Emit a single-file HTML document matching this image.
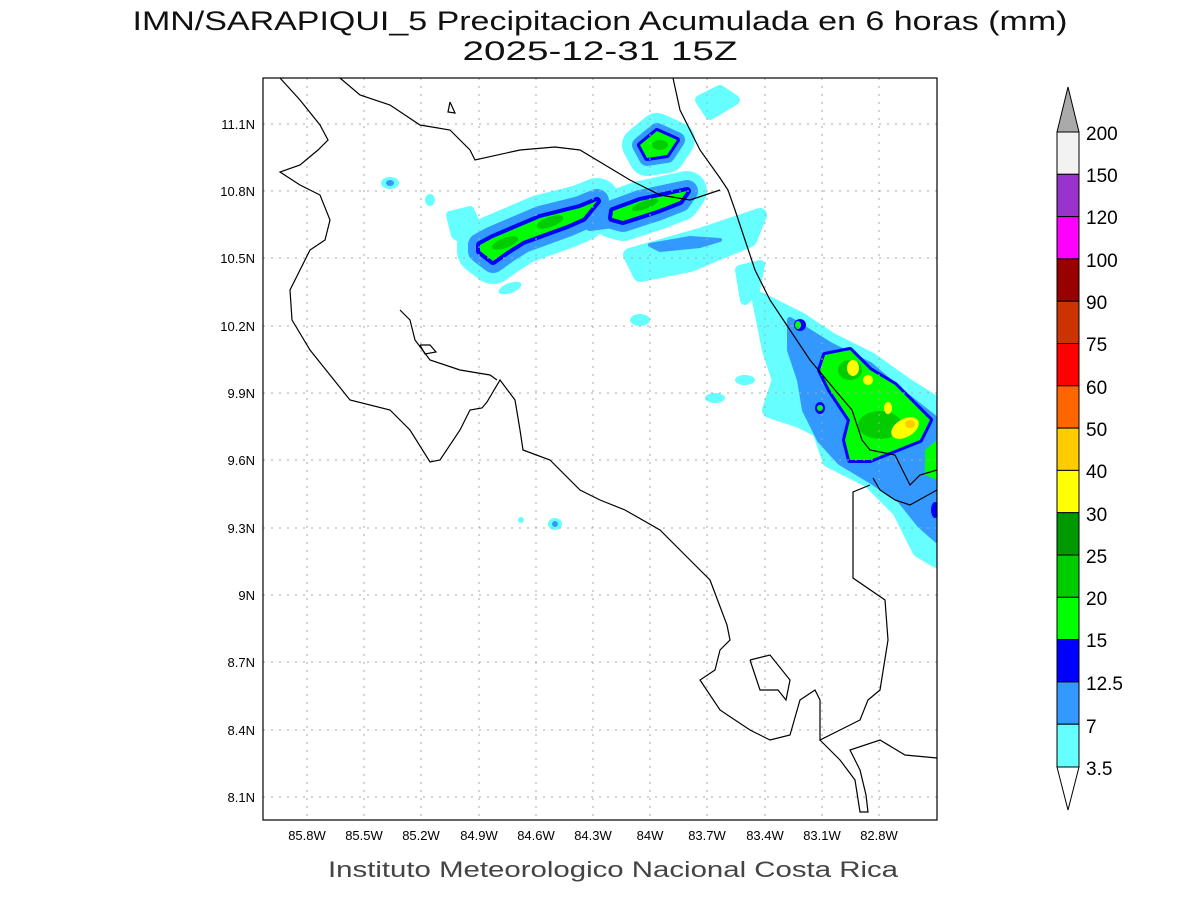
<!DOCTYPE html>
<html><head><meta charset="utf-8"><style>
body{margin:0;background:#fff;}
svg{display:block;font-family:"Liberation Sans",sans-serif;}
</style></head><body>
<svg width="1200" height="900" viewBox="0 0 1200 900">
<rect width="1200" height="900" fill="#fff"/>
<text x="600" y="30" font-size="27" text-anchor="middle" fill="#111" textLength="935" lengthAdjust="spacingAndGlyphs">IMN/SARAPIQUI_5 Precipitacion Acumulada en 6 horas (mm)</text>
<text x="600" y="60" font-size="27" text-anchor="middle" fill="#111" textLength="275" lengthAdjust="spacingAndGlyphs">2025-12-31 15Z</text>
<defs><clipPath id="c"><rect x="263" y="78" width="674" height="742"/></clipPath></defs>
<g clip-path="url(#c)" stroke-linejoin="round" stroke-linecap="round">
<g id="b1">
<polygon points="480,245 493,238 540,218 580,208 597,201 583,218 567,225 523,241 507,251 493,261 480,251" fill="#66ffff" stroke="#66ffff" stroke-width="46"/>
<polygon points="613,211 640,201 687,191 680,201 657,210 623,221 612,218" fill="#66ffff" stroke="#66ffff" stroke-width="40"/>
<polygon points="640,145 657,131 677,140 667,155 647,158" fill="#66ffff" stroke="#66ffff" stroke-width="36"/>
<polygon points="630,255 700,235 760,215 750,240 690,265 640,275" fill="#66ffff" stroke="#66ffff" stroke-width="14"/>
<polygon points="450,215 470,210 480,230 470,245 455,235" fill="#66ffff" stroke="#66ffff" stroke-width="8"/>
<polygon points="700,100 720,90 735,100 710,115" fill="#66ffff" stroke="#66ffff" stroke-width="10"/>
<polygon points="740,270 760,265 755,290 745,300" fill="#66ffff" stroke="#66ffff" stroke-width="10"/>
<polygon points="480,245 493,238 540,218 580,208 597,201 583,218 567,225 523,241 507,251 493,261 480,251" fill="#3399ff" stroke="#3399ff" stroke-width="24"/>
<polygon points="613,211 640,201 687,191 680,201 657,210 623,221 612,218" fill="#3399ff" stroke="#3399ff" stroke-width="22"/>
<polygon points="585,212 615,205 620,222 590,226" fill="#3399ff" stroke="#3399ff" stroke-width="10"/>
<polygon points="640,145 657,131 677,140 667,155 647,158" fill="#3399ff" stroke="#3399ff" stroke-width="16"/>
<polygon points="650,245 690,238 720,240 700,246 660,250" fill="#3399ff" stroke="#3399ff" stroke-width="4"/>
<polygon points="480,245 493,238 540,218 580,208 597,201 583,218 567,225 523,241 507,251 493,261 480,251" fill="#0000ff" stroke="#0000ff" stroke-width="8"/>
<polygon points="613,211 640,201 687,191 680,201 657,210 623,221 612,218" fill="#0000ff" stroke="#0000ff" stroke-width="8"/>
<polygon points="640,145 657,131 677,140 667,155 647,158" fill="#0000ff" stroke="#0000ff" stroke-width="6"/>
<polygon points="480,245 493,238 540,218 580,208 597,201 583,218 567,225 523,241 507,251 493,261 480,251" fill="#00ff00"/>
<polygon points="613,211 640,201 687,191 680,201 657,210 623,221 612,218" fill="#00ff00"/>
<polygon points="640,145 657,131 677,140 667,155 647,158" fill="#00ff00"/>
<ellipse cx="505" cy="243" rx="14" ry="5" fill="#00cc00" transform="rotate(-20 505 243)"/>
<ellipse cx="550" cy="222" rx="14" ry="5" fill="#00cc00" transform="rotate(-20 550 222)"/>
<ellipse cx="645" cy="205" rx="14" ry="4" fill="#00cc00" transform="rotate(-20 645 205)"/>
<ellipse cx="660" cy="145" rx="8" ry="5" fill="#00cc00"/>
</g>
<ellipse cx="390" cy="183" rx="9" ry="6" fill="#66ffff"/><ellipse cx="390" cy="183" rx="4" ry="3" fill="#3399ff"/>
<ellipse cx="430" cy="200" rx="5" ry="6" fill="#66ffff"/>
<ellipse cx="555" cy="524" rx="7" ry="6" fill="#66ffff"/><ellipse cx="555" cy="524" rx="3" ry="3" fill="#3399ff"/>
<ellipse cx="521" cy="520" rx="3" ry="3" fill="#66ffff"/>
<ellipse cx="510" cy="288" rx="12" ry="5" fill="#66ffff" transform="rotate(-20 510 288)"/>
<ellipse cx="640" cy="320" rx="10" ry="6" fill="#66ffff"/>
<ellipse cx="715" cy="398" rx="10" ry="5" fill="#66ffff"/>
<ellipse cx="745" cy="380" rx="10" ry="5" fill="#66ffff"/>
<polygon points="760,300 800,320 830,340 870,360 905,385 937,405 937,560 920,550 900,510 870,480 830,460 820,430 800,420 770,410 780,380 770,350" fill="#66ffff" stroke="#66ffff" stroke-width="16"/>
<polygon points="790,320 830,345 870,365 905,395 937,420 937,540 920,525 900,500 870,480 840,462 820,440 805,410 800,380 790,350" fill="#3399ff" stroke="#3399ff" stroke-width="6"/>
<polygon points="825,355 850,350 870,370 895,385 915,405 930,420 920,440 895,450 870,460 850,460 845,440 850,420 830,390 820,370" fill="#0000ff" stroke="#0000ff" stroke-width="6"/>
<polygon points="825,355 850,350 870,370 895,385 915,405 930,420 920,440 895,450 870,460 850,460 845,440 850,420 830,390 820,370" fill="#00ff00"/>
<ellipse cx="880" cy="425" rx="22" ry="14" fill="#00cc00"/>
<ellipse cx="850" cy="370" rx="12" ry="10" fill="#00cc00"/>
<ellipse cx="853" cy="368" rx="6" ry="8" fill="#ffff00"/>
<ellipse cx="868" cy="380" rx="5" ry="5" fill="#ffff00"/>
<ellipse cx="905" cy="428" rx="15" ry="9" fill="#ffff00" transform="rotate(-30 905 428)"/>
<ellipse cx="910" cy="424" rx="5" ry="4" fill="#ffcc00"/>
<ellipse cx="888" cy="408" rx="4" ry="6" fill="#ffff00"/>
<polygon points="925,450 937,440 937,480 925,475" fill="#00ff00"/>
<ellipse cx="935" cy="510" rx="4" ry="8" fill="#0000ff"/>
<ellipse cx="800" cy="325" rx="6" ry="6" fill="#0000ff"/><ellipse cx="798" cy="325" rx="3" ry="4" fill="#00ff00"/>
<ellipse cx="820" cy="408" rx="5" ry="6" fill="#0000ff"/><ellipse cx="820" cy="408" rx="3" ry="3" fill="#00ff00"/>
</g>
<g stroke="#aaa" stroke-width="1" stroke-dasharray="2,6">
<line x1="307" y1="78" x2="307" y2="820"/><line x1="364" y1="78" x2="364" y2="820"/><line x1="421" y1="78" x2="421" y2="820"/><line x1="479" y1="78" x2="479" y2="820"/><line x1="536" y1="78" x2="536" y2="820"/><line x1="593" y1="78" x2="593" y2="820"/><line x1="650" y1="78" x2="650" y2="820"/><line x1="707" y1="78" x2="707" y2="820"/><line x1="765" y1="78" x2="765" y2="820"/><line x1="822" y1="78" x2="822" y2="820"/><line x1="879" y1="78" x2="879" y2="820"/>
<line x1="263" y1="124" x2="937" y2="124"/><line x1="263" y1="191" x2="937" y2="191"/><line x1="263" y1="258" x2="937" y2="258"/><line x1="263" y1="326" x2="937" y2="326"/><line x1="263" y1="393" x2="937" y2="393"/><line x1="263" y1="460" x2="937" y2="460"/><line x1="263" y1="528" x2="937" y2="528"/><line x1="263" y1="595" x2="937" y2="595"/><line x1="263" y1="662" x2="937" y2="662"/><line x1="263" y1="730" x2="937" y2="730"/><line x1="263" y1="797" x2="937" y2="797"/>
</g>
<g clip-path="url(#c)" fill="none" stroke="#000" stroke-width="1.2">
<polyline points="280,78 300,100 320,125 328,140 318,150 300,165 280,172 300,185 320,195 330,220 325,240 310,250 300,270 290,290 292,320 310,350 330,375 350,400 390,410 410,430 430,462 440,460 460,430 470,410 482,408 487,402 500,380 515,400 520,430 523,450 550,460 580,490 600,500 625,510 660,530 690,560 710,580 727,625 730,640 720,650 715,670 700,680 720,710 750,730 770,740 790,735 800,700 815,690 820,700 820,740 840,730 860,720 868,700 880,690 888,640 885,600 853,578 853,492 870,485"/>
<polyline points="400,310 410,320 415,340 430,360 460,370 490,375 497,380"/>
<polyline points="420,345 430,345 436,352 425,354 420,345"/>
<polyline points="750,660 770,655 790,680 786,700 778,690 760,690 750,660"/>
<polyline points="873,478 880,490 895,500 910,505 937,490"/>
<polyline points="820,740 840,760 855,780 860,812 868,812 866,795 860,770 850,750 880,740 905,755 937,758"/>
<polyline points="340,78 360,95 390,105 420,125 450,130 470,150 475,160 520,150 555,147 580,150 605,165 630,180 660,195 690,200 720,190"/>
<polyline points="673,78 680,110 700,150 720,178 728,190 735,210 745,240 755,270 770,300 790,330 810,360 835,390 852,410 862,440 870,450 895,455 910,485 920,475 937,470"/>
<polyline points="450,102 455,113 448,112 450,102"/>
</g>
<rect x="263" y="78" width="674" height="742" fill="none" stroke="#000" stroke-width="1.2"/>
<g font-size="13" fill="#000" text-anchor="middle">
<text x="307" y="840">85.8W</text><text x="364" y="840">85.5W</text><text x="421" y="840">85.2W</text><text x="479" y="840">84.9W</text><text x="536" y="840">84.6W</text><text x="593" y="840">84.3W</text><text x="650" y="840">84W</text><text x="707" y="840">83.7W</text><text x="765" y="840">83.4W</text><text x="822" y="840">83.1W</text><text x="879" y="840">82.8W</text>
</g>
<g font-size="13" fill="#000" text-anchor="end">
<text x="255" y="129">11.1N</text><text x="255" y="196">10.8N</text><text x="255" y="263">10.5N</text><text x="255" y="331">10.2N</text><text x="255" y="398">9.9N</text><text x="255" y="465">9.6N</text><text x="255" y="533">9.3N</text><text x="255" y="600">9N</text><text x="255" y="667">8.7N</text><text x="255" y="735">8.4N</text><text x="255" y="802">8.1N</text>
</g>
<text x="613" y="877" font-size="22" text-anchor="middle" fill="#444" textLength="570" lengthAdjust="spacingAndGlyphs">Instituto Meteorologico Nacional Costa Rica</text>
<g stroke="#000" stroke-width="1">
<polygon points="1057,132 1068,87 1079,132" fill="#aaaaaa"/>
<rect x="1057" y="132" width="22" height="42.3" fill="#f2f2f2"/>
<rect x="1057" y="174.3" width="22" height="42.3" fill="#9933cc"/>
<rect x="1057" y="216.6" width="22" height="42.3" fill="#ff00ff"/>
<rect x="1057" y="258.9" width="22" height="42.3" fill="#990000"/>
<rect x="1057" y="301.2" width="22" height="42.3" fill="#cc3300"/>
<rect x="1057" y="343.5" width="22" height="42.3" fill="#ff0000"/>
<rect x="1057" y="385.8" width="22" height="42.3" fill="#ff6600"/>
<rect x="1057" y="428.1" width="22" height="42.3" fill="#ffcc00"/>
<rect x="1057" y="470.4" width="22" height="42.3" fill="#ffff00"/>
<rect x="1057" y="512.7" width="22" height="42.3" fill="#009900"/>
<rect x="1057" y="555" width="22" height="42.3" fill="#00cc00"/>
<rect x="1057" y="597.3" width="22" height="42.3" fill="#00ff00"/>
<rect x="1057" y="639.6" width="22" height="42.3" fill="#0000ff"/>
<rect x="1057" y="681.9" width="22" height="42.3" fill="#3399ff"/>
<rect x="1057" y="724.2" width="22" height="42.8" fill="#66ffff"/>
<polygon points="1057,767 1068,810 1079,767" fill="#fff"/>
</g>
<g font-size="19" fill="#000">
<text x="1086" y="140">200</text><text x="1086" y="182">150</text><text x="1086" y="224">120</text><text x="1086" y="267">100</text><text x="1086" y="309">90</text><text x="1086" y="351">75</text><text x="1086" y="394">60</text><text x="1086" y="436">50</text><text x="1086" y="478">40</text><text x="1086" y="521">30</text><text x="1086" y="563">25</text><text x="1086" y="605">20</text><text x="1086" y="647">15</text><text x="1086" y="690">12.5</text><text x="1086" y="733">7</text><text x="1086" y="775">3.5</text>
</g>
</svg>
</body></html>
